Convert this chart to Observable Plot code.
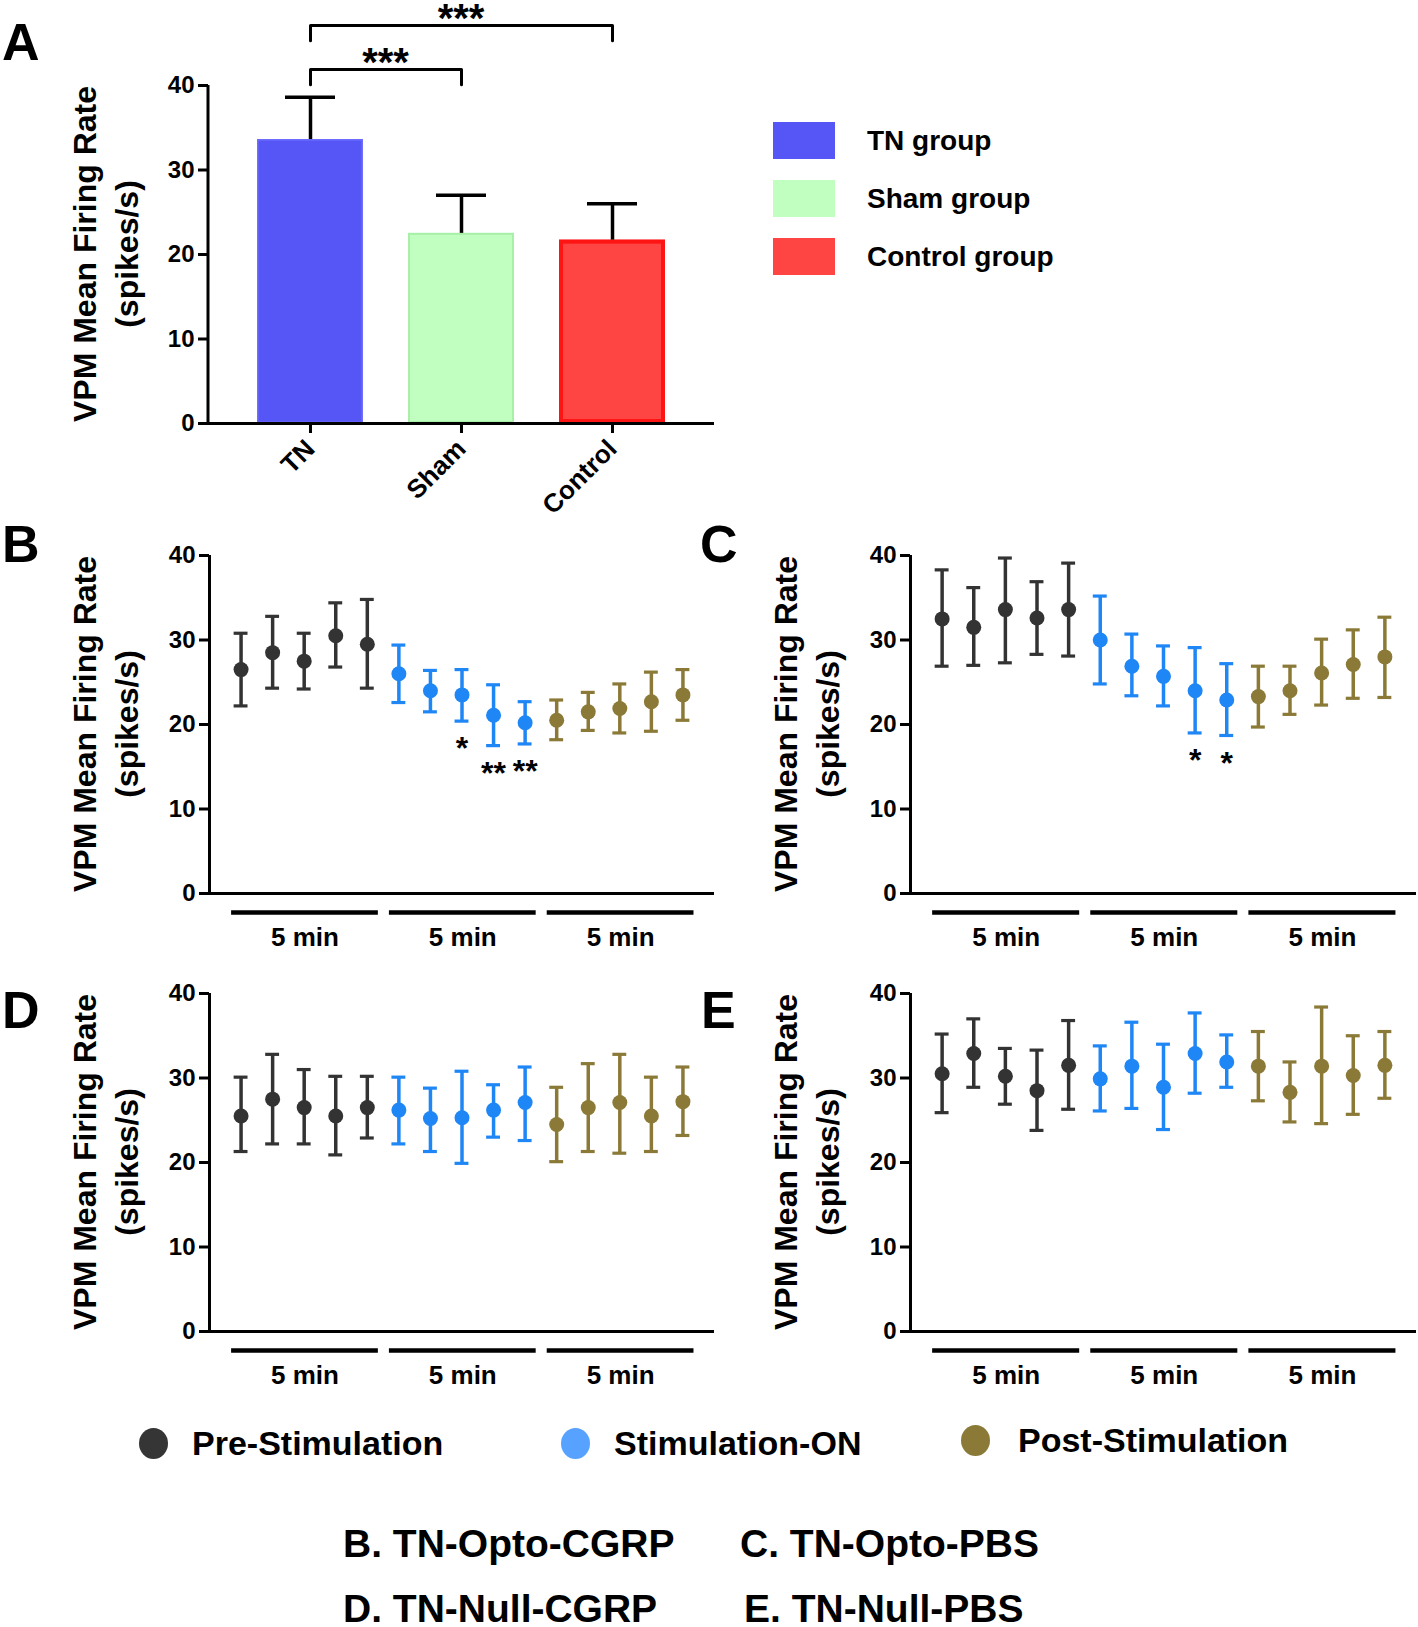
<!DOCTYPE html>
<html><head><meta charset="utf-8">
<script src="https://cdn.jsdelivr.net/npm/d3@7"></script>
<script src="https://cdn.jsdelivr.net/npm/@observablehq/plot@0.6"></script>
<style>
html,body{margin:0;padding:0;background:#fff;}
#page{position:relative;width:1418px;height:1627px;overflow:hidden;background:#fff;font-family:Arial,"Liberation Sans",Helvetica,sans-serif;font-weight:bold;color:#000;}
.abs{position:absolute;white-space:nowrap;line-height:1;}
</style></head><body><div id="page"></div>
<script>
// ---------------- data ----------------
const groupsA = ["TN", "Sham", "Control"];
const groupLegendA = ["TN group", "Sham group", "Control group"];
const meanA = [33.6, 22.5, 21.7];
const upperA = [38.6, 27.0, 26.0];
const comparisonsA = [
  {from: "TN", to: "Sham", level: 41.9, base: 40.1, label: "***"},
  {from: "TN", to: "Control", level: 47.1, base: 45.3, label: "***"}
];

const phases = ["Pre-Stimulation", "Stimulation-ON", "Post-Stimulation"];
const binsPerPhase = 5;
const periodLabel = "5 min";
const yTicks = [0, 10, 20, 30, 40];
const yTitle = ["VPM Mean Firing Rate", "(spikes/s)"];
const panelLetters = ["A", "B", "C", "D", "E"];
const panelNames = ["B. TN-Opto-CGRP", "C. TN-Opto-PBS", "D. TN-Null-CGRP", "E. TN-Null-PBS"];

const meanB = [26.5, 28.5, 27.5, 30.5, 29.5, 26.0, 24.0, 23.5, 21.1, 20.2, 20.5, 21.5, 21.9, 22.7, 23.5];
const lowB  = [22.2, 24.3, 24.2, 26.8, 24.3, 22.6, 21.5, 20.4, 17.5, 17.7, 18.2, 19.3, 19.0, 19.2, 20.5];
const highB = [30.8, 32.8, 30.8, 34.4, 34.8, 29.4, 26.4, 26.5, 24.7, 22.7, 22.9, 23.8, 24.8, 26.2, 26.5];
const starsB = [{bin: 8, text: "*"}, {bin: 9, text: "**"}, {bin: 10, text: "**"}];

const meanC = [32.5, 31.5, 33.6, 32.6, 33.6, 30.0, 26.9, 25.7, 24.0, 22.9, 23.3, 24.0, 26.1, 27.1, 28.0];
const lowC  = [26.9, 27.0, 27.3, 28.3, 28.1, 24.8, 23.4, 22.2, 19.0, 18.7, 19.7, 21.2, 22.3, 23.1, 23.2];
const highC = [38.3, 36.2, 39.7, 36.9, 39.1, 35.2, 30.7, 29.3, 29.1, 27.2, 26.9, 26.9, 30.1, 31.2, 32.7];
const starsC = [{bin: 9, text: "*"}, {bin: 10, text: "*"}];

const meanD = [25.5, 27.5, 26.5, 25.5, 26.5, 26.2, 25.2, 25.3, 26.2, 27.1, 24.5, 26.5, 27.1, 25.5, 27.2];
const lowD  = [21.3, 22.2, 22.2, 20.9, 22.9, 22.2, 21.3, 19.9, 23.0, 22.6, 20.1, 21.3, 21.1, 21.3, 23.2];
const highD = [30.1, 32.8, 31.0, 30.2, 30.2, 30.1, 28.8, 30.8, 29.2, 31.3, 28.9, 31.7, 32.8, 30.1, 31.3];
const starsD = [];

const meanE = [30.5, 32.9, 30.2, 28.5, 31.5, 29.9, 31.4, 28.9, 32.9, 31.9, 31.4, 28.3, 31.4, 30.3, 31.5];
const lowE  = [25.9, 28.9, 26.9, 23.8, 26.3, 26.1, 26.4, 23.9, 28.2, 28.9, 27.3, 24.8, 24.6, 25.7, 27.6];
const highE = [35.2, 37.0, 33.5, 33.3, 36.8, 33.8, 36.6, 34.0, 37.7, 35.1, 35.5, 31.9, 38.4, 35.0, 35.5];
const starsE = [];

// ---------------- styles ----------------
const barFillA = ["#5656f7", "#c0ffc0", "#ff4444"];
const barStrokeA = ["#6e6eff", "#a8f0a8", "#ff1414"];
const barStrokeWidthA = [1.5, 2, 4];
const pointColors = ["#333333", "#1f86f5", "#8b7a37"];
const legendDotColors = ["#353535", "#58a2ff", "#8b7a37"];
const FONT = "Arial, 'Liberation Sans', Helvetica, sans-serif";

const page = document.getElementById("page");
function place(node, left, top) {
  node.style.position = "absolute";
  node.style.left = left + "px";
  node.style.top = top + "px";
  page.appendChild(node);
  return node;
}
function addText(txt, left, baseline, fs) {
  const d = document.createElement("div");
  d.className = "abs";
  d.textContent = txt;
  d.style.fontSize = fs + "px";
  d.style.left = left + "px";
  d.style.top = (baseline - 0.8465 * fs) + "px";
  page.appendChild(d);
  return d;
}
function addYTitle(cx, cy) {
  const d = document.createElement("div");
  d.className = "abs";
  d.innerHTML = yTitle[0] + "<br>" + yTitle[1];
  d.style.fontSize = "32px";
  d.style.lineHeight = "42px";
  d.style.textAlign = "center";
  d.style.left = cx + "px";
  d.style.top = cy + "px";
  d.style.transform = "translate(-50%,-50%) rotate(-90deg)";
  page.appendChild(d);
}
const svgStyle = {fontFamily: FONT, fontWeight: "bold", fontSize: "24px", color: "black", background: "transparent", overflow: "visible"};

// ---------------- Panel A ----------------
const rowsA = groupsA.map((g, i) => ({group: g, mean: meanA[i], upper: upperA[i]}));
const bracketRows = comparisonsA.flatMap((b, k) => [
  {id: k, x: b.from, y: b.base}, {id: k, x: b.from, y: b.level},
  {id: k, x: b.to, y: b.level}, {id: k, x: b.to, y: b.base}
]);
function yAxisLineA(index, scales, values, dims) {
  const line = d3.create("svg:line")
    .attr("x1", dims.marginLeft).attr("x2", dims.marginLeft)
    .attr("y1", scales.y(40)).attr("y2", scales.y(0))
    .attr("stroke", "black").attr("stroke-width", 3);
  return line.node();
}
function bracketStarsA(index, scales, values, dims) {
  const x = scales.x, y = scales.y;
  const half = x.bandwidth ? x.bandwidth() / 2 : 0;
  const g = d3.create("svg:g").attr("text-anchor", "middle").attr("font-size", 40).attr("font-weight", "bold");
  for (const b of comparisonsA) {
    g.append("text")
      .attr("x", (x(b.from) + x(b.to)) / 2 + half)
      .attr("y", y(b.level) - 15)
      .attr("dy", "0.55em")
      .text(b.label);
  }
  return g.node();
}
const chartA = Plot.plot({
  width: 600, height: 540,
  marginLeft: 68, marginRight: 26, marginTop: 85, marginBottom: 117,
  x: {type: "band", domain: groupsA, paddingInner: 0.3, paddingOuter: 0.317, label: null},
  y: {domain: [0, 40], label: null},
  color: {domain: groupsA, range: barFillA},
  style: svgStyle,
  marks: [
    Plot.barY(rowsA, {x: "group", y: "mean", fill: "group"}),
    ...groupsA.map((g, i) => Plot.barY(rowsA, {
      filter: d => d.group === g, x: "group", y: "mean", fill: "none",
      stroke: barStrokeA[i], strokeWidth: barStrokeWidthA[i], inset: barStrokeWidthA[i] / 2
    })),
    Plot.ruleX(rowsA, {x: "group", y1: "mean", y2: "upper", strokeWidth: 3.5}),
    Plot.tickY(rowsA, {x: "group", y: "upper", strokeWidth: 3.5, insetLeft: 28, insetRight: 28}),
    Plot.line(bracketRows, {x: "x", y: "y", z: "id", strokeWidth: 3, curve: "linear"}),
    bracketStarsA,
    Plot.ruleY([0], {strokeWidth: 3}),
    yAxisLineA,
    Plot.axisY({ticks: yTicks, tickSize: 10, tickPadding: 4, fontSize: 24, strokeWidth: 3, label: null}),
    Plot.axisX({tickRotate: -45, tickSize: 10, tickPadding: 11, fontSize: 26, strokeWidth: 3, label: null})
  ]
});
place(chartA, 140, 0);

// ---------------- Panels B-E ----------------
function timePanel(mean, low, high, stars, left, top, width, marginRight) {
  const rows = mean.map((m, i) => ({bin: i + 1, phase: phases[Math.floor(i / binsPerPhase)], mean: m, low: low[i], high: high[i]}));
  const periods = phases.map((p, k) => ({first: k * binsPerPhase + 1, last: (k + 1) * binsPerPhase, label: periodLabel}));
  const starRows = stars.map(s => ({...s, low: low[s.bin - 1]}));
  const chart = Plot.plot({
    width, height: 440,
    marginLeft: 69, marginRight, marginTop: 25, marginBottom: 77,
    x: {type: "linear", domain: [0, phases.length * binsPerPhase + 1], axis: null},
    y: {domain: [0, 40], label: null},
    color: {domain: phases, range: pointColors},
    style: svgStyle,
    marks: [
      Plot.ruleX(rows, {x: "bin", y1: "low", y2: "high", stroke: "phase", strokeWidth: 3.5}),
      Plot.ruleY(rows, {y: "high", x1: d => d.bin - 0.22, x2: d => d.bin + 0.22, stroke: "phase", strokeWidth: 3.2}),
      Plot.ruleY(rows, {y: "low", x1: d => d.bin - 0.22, x2: d => d.bin + 0.22, stroke: "phase", strokeWidth: 3.2}),
      Plot.dot(rows, {x: "bin", y: "mean", r: 7.5, fill: "phase", stroke: null}),
      Plot.text(starRows, {x: "bin", y: "low", text: "text", dy: 28, fontSize: 32, fontWeight: "bold", fill: "black"}),
      Plot.ruleY([0], {strokeWidth: 3}),
      Plot.ruleX([0], {strokeWidth: 3}),
      Plot.axisY({ticks: yTicks, tickSize: 10, tickPadding: 4, fontSize: 24, strokeWidth: 3, label: null}),
      Plot.ruleY(periods, {y: 0, x1: d => d.first - 0.3, x2: d => d.last + 0.35, dy: 19, strokeWidth: 4.5}),
      Plot.text(periods, {x: d => (d.first + d.last + 0.05) / 2, y: 0, text: "label", dy: 44, fontSize: 26, fontWeight: "bold", fill: "black"})
    ]
  });
  place(chart, left, top);
}
timePanel(meanB, lowB, highB, starsB, 140, 530, 600, 26);
timePanel(meanC, lowC, highC, starsC, 841, 530, 577, 2);
timePanel(meanD, lowD, highD, starsD, 140, 968, 600, 26);
timePanel(meanE, lowE, highE, starsE, 841, 968, 577, 2);

// ---------------- text & legends ----------------
addText(panelLetters[0], 2, 60, 52);
addText(panelLetters[1], 2, 562, 52);
addText(panelLetters[2], 700, 562, 52);
addText(panelLetters[3], 2, 1028, 52);
addText(panelLetters[4], 701, 1028, 52);

addYTitle(106, 254);
addYTitle(106, 724);
addYTitle(807, 724);
addYTitle(106, 1162);
addYTitle(807, 1162);

// Panel A legend
const swatchTops = [122, 180, 238];
groupLegendA.forEach((name, i) => {
  const sw = document.createElement("div");
  sw.style.width = "62px";
  sw.style.height = "37px";
  sw.style.background = barFillA[i];
  place(sw, 773, swatchTops[i]);
  addText(name, 867, swatchTops[i] + 18.5 + 10, 28);
});

// Bottom legend
const legendX = [153.5, 575.7, 975];
const legendTextX = [192, 614, 1018];
const legendY = [1443, 1443, 1440];
phases.forEach((p, i) => {
  const dot = document.createElement("div");
  dot.style.width = "29px";
  dot.style.height = "31px";
  dot.style.borderRadius = "50%";
  dot.style.background = legendDotColors[i];
  place(dot, legendX[i] - 14.5, legendY[i] - 15.5);
  addText(p, legendTextX[i], legendY[i] + 12, 34);
});

// Captions
addText(panelNames[0], 343, 1557, 39);
addText(panelNames[1], 740, 1557, 39);
addText(panelNames[2], 343, 1622, 39);
addText(panelNames[3], 744, 1622, 39);
</script></body></html>
